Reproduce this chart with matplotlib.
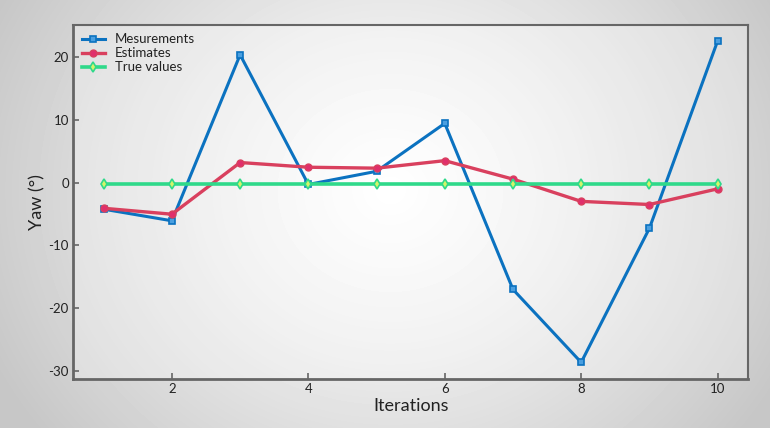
import numpy as np
import matplotlib
matplotlib.use("Agg")
import matplotlib.pyplot as plt

iterations = [1, 2, 3, 4, 5, 6, 7, 8, 9, 10]
measurements = [-4.25, -6.1, 20.4, -0.3, 1.8, 9.45, -17.05, -28.7, -7.3, 22.6]
estimates = [-4.1, -5.05, 3.2, 2.45, 2.3, 3.5, 0.55, -3.0, -3.5, -1.0]
true_values = [-0.2] * 10
x_ticks = [2, 4, 6, 8, 10]
y_ticks = [-30, -20, -10, 0, 10, 20]

plt.rcParams['font.family'] = ['Lato', 'DejaVu Sans']
plt.rcParams['axes.unicode_minus'] = False

W, H = 770, 428
fig = plt.figure(figsize=(W / 100, H / 100), dpi=100)

# radial gradient background
bg = fig.add_axes([0, 0, 1, 1], zorder=-10)
yy, xx = np.mgrid[0:H, 0:W]
r = np.sqrt(((xx - 390) / 1.0) ** 2 + ((yy - 190) / 0.9) ** 2)
v = 1 - 0.22 * np.clip(r / 440, 0, 1) ** 1.2
bg.imshow(v, cmap='gray', vmin=0, vmax=1, aspect='auto', interpolation='bilinear')
bg.set_axis_off()

ax = fig.add_axes([73 / W, 1 - 379.3 / H, (748.3 - 73) / W, (379.3 - 24.7) / H])
ax.set_facecolor((1, 1, 1, 0.3))

ax.plot(iterations, measurements, color='#0b72c0', lw=2.2, marker='s', ms=4.5,
        mfc='#4a9fe0', mec='#0b72c0', mew=1.2, label='Mesurements')
ax.plot(iterations, estimates, color='#d9405e', lw=2.4, marker='o', ms=5,
        mfc='#e02f6c', mec='#d9405e', mew=1.0, label='Estimates')
ax.plot(iterations, true_values, color='#2fd98a', lw=2.6, marker='d', ms=5,
        mfc='#d4f56a', mec='#2fd98a', mew=1.2, label='True values')

ax.set_xlim(0.55, 10.45)
ax.set_ylim(-31.4, 25.2)
ax.set_xticks(x_ticks)
ax.set_yticks(y_ticks)

for s in ['left', 'bottom']:
    ax.spines[s].set_linewidth(2.0)
    ax.spines[s].set_color('#666666')
for s in ['top', 'right']:
    ax.spines[s].set_linewidth(1.5)
    ax.spines[s].set_color('#666666')
ax.tick_params(axis='both', direction='in', length=4, width=1.2, color='#666666',
               labelsize=9.5, labelcolor='#222222', pad=3)
ax.tick_params(top=False, right=False)

ax.set_xlabel('Iterations', fontsize=13, color='#222222', labelpad=2)
ax.set_ylabel('Yaw (°)', fontsize=13, color='#222222', labelpad=2)

leg = ax.legend(loc='upper left', frameon=False, fontsize=9.5, handlelength=1.8,
                borderaxespad=0.25, labelspacing=0.15, handletextpad=0.7)
for t in leg.get_texts():
    t.set_color('#222222')

fig.savefig('out.png', dpi=100)
